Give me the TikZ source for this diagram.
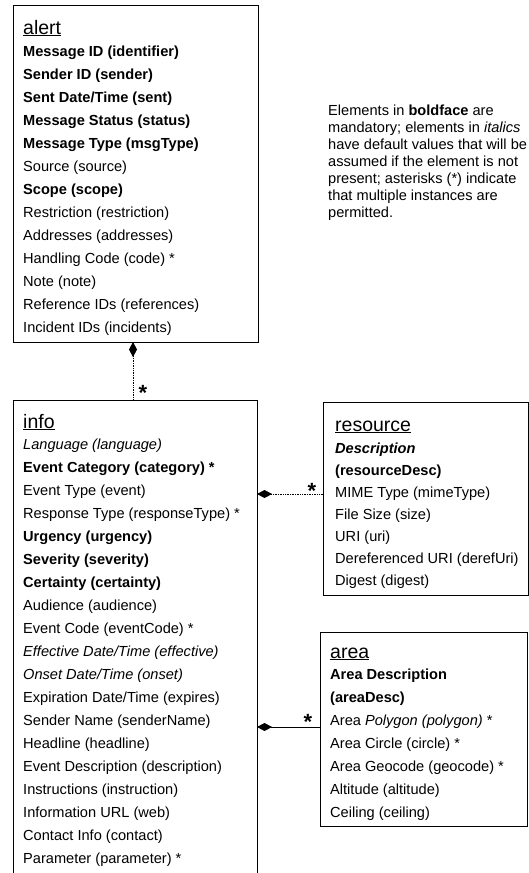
\documentclass[tikz,border=0pt]{standalone}
\usepackage{fontspec}
\setmainfont{Liberation Sans}
\usetikzlibrary{arrows.meta}
\begin{document}
\begin{tikzpicture}[x=1pt,y=-1pt,
  box/.style={draw, line width=0.8pt, inner sep=0pt, outer sep=0pt, anchor=north west, rectangle},
  item/.style={anchor=base west, inner sep=0pt, font=\fontsize{14.6}{17}\selectfont},
  ttl/.style={anchor=base west, inner sep=0pt, font=\fontsize{19.5}{22}\selectfont},
  notetext/.style={anchor=base west, inner sep=0pt, font=\fontsize{14.6}{17}\selectfont},
  starlbl/.style={anchor=north, inner sep=0pt, font=\bfseries\fontsize{22}{22}\selectfont},
  conn/.style={line width=0.7pt},
  dia/.style={{Diamond[length=15pt,width=8pt]}-}
]
\useasboundingbox (0,0) rectangle (529,873);
\clip (0,0) rectangle (529,873);

% boxes
\node[box, minimum width=245pt, minimum height=337pt] (alert) at (13,5) {};
\node[box, minimum width=244pt, minimum height=490pt] (info) at (13,400) {};
\node[box, minimum width=205pt, minimum height=193pt] (resource) at (323,402) {};
\node[box, minimum width=207pt, minimum height=194pt] (area) at (320,632) {};

% alert
\node[ttl] (alertttl) at (23,34) {\underline{alert}};
\foreach \t [count=\i from 0] in {
  \textbf{Message ID (identifier)},
  \textbf{Sender ID (sender)},
  \textbf{Sent Date/Time (sent)},
  \textbf{Message Status (status)},
  \textbf{Message Type (msgType)},
  Source (source),
  \textbf{Scope (scope)},
  Restriction (restriction),
  Addresses (addresses),
  Handling Code (code) *,
  Note (note),
  Reference IDs (references),
  Incident IDs (incidents)}
  \node[item] (al\i) at (23,{56+23*\i}) {\t};

% info
\node[ttl] (infottl) at (23,428) {\underline{info}};
\foreach \t [count=\i from 0] in {
  \textit{Language (language)},
  \textbf{Event Category (category) *},
  Event Type (event),
  Response Type (responseType) *,
  \textbf{Urgency (urgency)},
  \textbf{Severity (severity)},
  \textbf{Certainty (certainty)},
  Audience (audience),
  Event Code (eventCode) *,
  \textit{Effective Date/Time (effective)},
  \textit{Onset Date/Time (onset)},
  Expiration Date/Time (expires),
  Sender Name (senderName),
  Headline (headline),
  Event Description (description),
  Instructions (instruction),
  Information URL (web),
  Contact Info (contact),
  Parameter (parameter) *}
  \node[item] (in\i) at (23,{449+23*\i}) {\t};

% resource
\node[ttl] (resttl) at (335,431) {\underline{resource}};
\foreach \t [count=\i from 0] in {
  \textbf{\textit{Description}},
  \textbf{(resourceDesc)},
  MIME Type (mimeType),
  File Size (size),
  URI (uri),
  Dereferenced URI (derefUri),
  Digest (digest)}
  \node[item] (re\i) at (335,{453+22*\i}) {\t};

% area
\node[ttl] (areattl) at (330,658) {\underline{area}};
\foreach \t [count=\i from 0] in {
  \textbf{Area Description},
  \textbf{(areaDesc)},
  Area \textit{Polygon (polygon)} *,
  Area Circle (circle) *,
  Area Geocode (geocode) *,
  Altitude (altitude),
  Ceiling (ceiling)}
  \node[item] (ar\i) at (330,{679+23*\i}) {\t};

% note
\foreach \t [count=\i from 0] in {
  Elements in \textbf{boldface} are,
  mandatory; elements in \textit{italics},
  have default values that will be,
  assumed if the element is not,
  present; asterisks (*) indicate,
  that multiple instances are,
  permitted.}
  \node[notetext] (nt\i) at (328,{115+17*\i}) {\t};

% connectors
\coordinate (ax) at (133,0);
\coordinate (ry) at (0,494);
\coordinate (ay) at (0,727);
\draw[conn, densely dotted, dia] (alert.south -| ax) -- (info.north -| ax);
\draw[conn, densely dotted, dia] (info.east |- ry) -- (resource.west |- ry);
\draw[conn, dia] (info.east |- ay) -- (area.west |- ay);

% multiplicity stars
\node[starlbl] (st1) at (143,385) {*};
\node[starlbl] (st2) at (312,483) {*};
\node[starlbl] (st3) at (308,714) {*};
\end{tikzpicture}
\end{document}
